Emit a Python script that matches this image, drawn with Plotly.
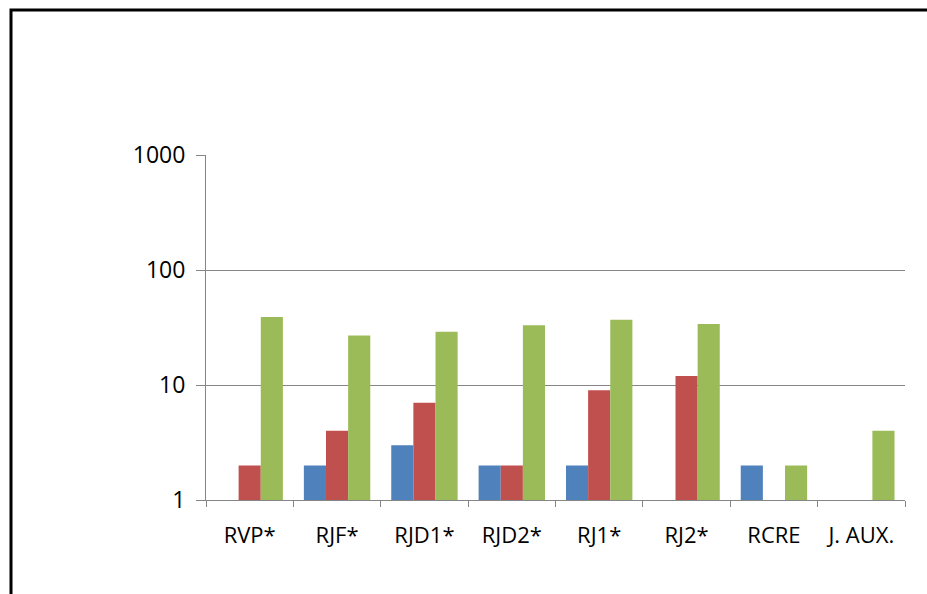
import plotly.graph_objects as go

categories = ["RVP*", "RJF*", "RJD1*", "RJD2*", "RJ1*", "RJ2*", "RCRE", "J. AUX."]
series_blue = [None, 2, 3, 2, 2, None, 2, None]
series_red = [2, 4, 7, 2, 9, 12, None, None]
series_green = [39, 27, 29, 33, 37, 34, 2, 4]
y_tick_values = [1, 10, 100, 1000]
y_tick_labels = ["1", "10", "100", "1000"]

W, H = 927, 594
L, R, T, B = 206, 905, 155, 500

fig = go.Figure()
for name, vals, col in [("blue", series_blue, "#4F81BD"),
                        ("red", series_red, "#C0504D"),
                        ("green", series_green, "#9BBB59")]:
    fig.add_trace(go.Bar(x=categories, y=vals, name=name,
                         marker=dict(color=col, line=dict(width=0))))

def px_x(p):
    return (p - L) / (R - L)

def px_y(p):
    return (B - p) / (B - T)

fig.add_shape(type="rect", xref="paper", yref="paper",
              x0=px_x(11), x1=px_x(960), y0=px_y(10), y1=px_y(640),
              line=dict(color="black", width=3), fillcolor="rgba(0,0,0,0)")

fig.update_layout(
    width=W, height=H,
    margin=dict(l=L, r=W - R, t=T, b=H - B, pad=0),
    paper_bgcolor="white", plot_bgcolor="white",
    barmode="group", bargap=0.24, bargroupgap=0,
    showlegend=False,
    font=dict(family="Open Sans", size=23, color="black"),
    xaxis=dict(showline=True, linecolor="#868686", linewidth=1,
               ticks="outside", tickson="boundaries", ticklen=6,
               tickcolor="#868686", showgrid=False,
               ticklabelstandoff=16,
               tickfont=dict(size=22)),
    yaxis=dict(type="log", range=[0, 3],
               tickvals=y_tick_values, ticktext=y_tick_labels,
               showline=True, linecolor="#868686", linewidth=1,
               ticks="outside", ticklen=9, tickcolor="#868686",
               showgrid=True, gridcolor="#868686", gridwidth=1,
               zeroline=False, ticklabelstandoff=6,
               tickfont=dict(size=23)),
)

fig.write_html("out.html", config={"displayModeBar": False},
               post_script="document.body.style.margin='0';document.body.style.overflow='hidden';")
